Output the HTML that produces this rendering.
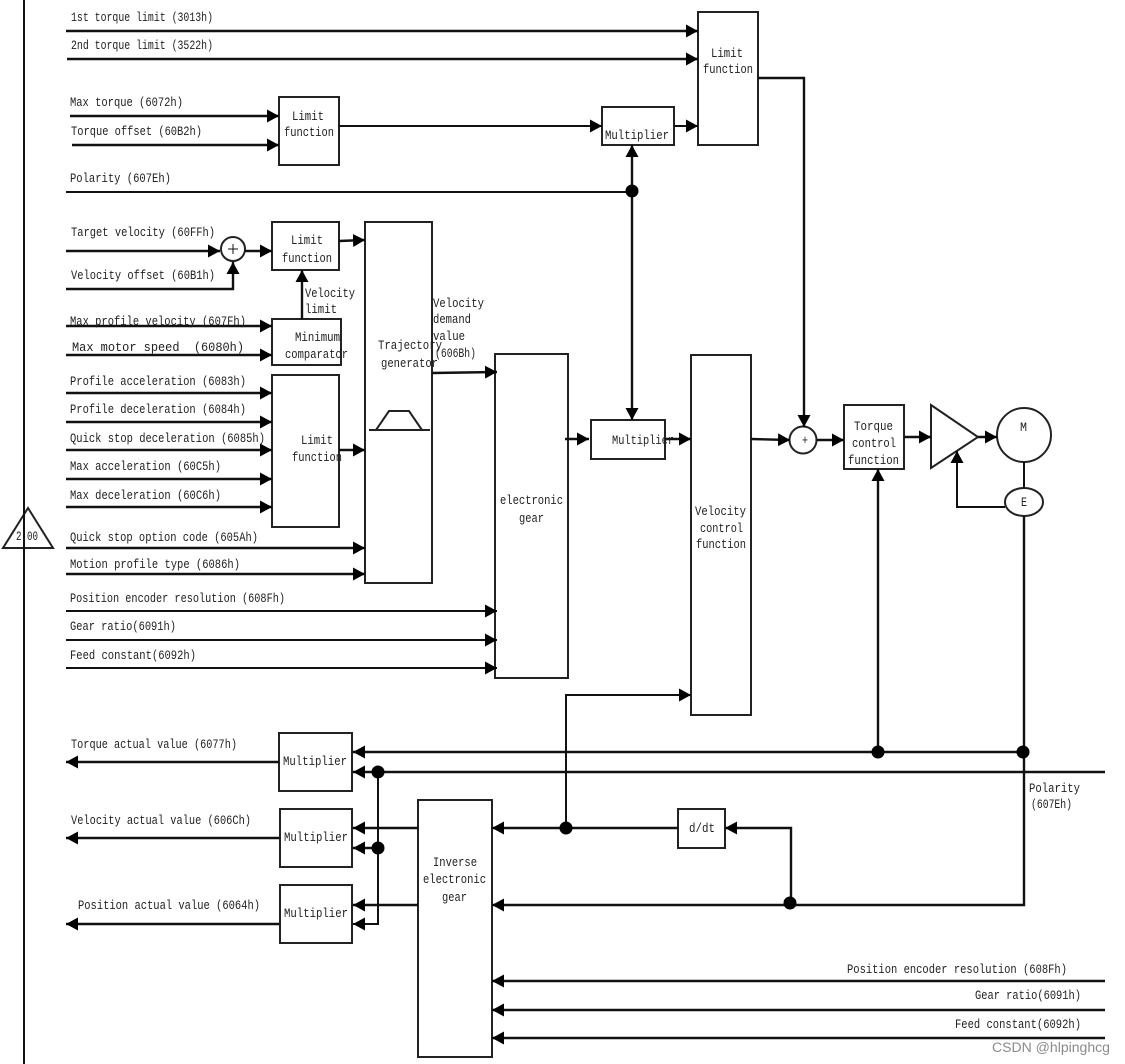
<!DOCTYPE html>
<html><head><meta charset="utf-8"><style>
html,body{margin:0;padding:0;background:#fff}
svg{display:block}
text{font-family:"Liberation Mono","DejaVu Sans Mono",monospace;font-size:13px;fill:#222}
.l{fill:none;stroke:#111;stroke-width:2.4;marker-end:url(#a)}
.n{fill:none;stroke:#111;stroke-width:2.4}
.t{stroke-width:2}
.b{fill:#fff;stroke:#222;stroke-width:2}
.f{fill:none;stroke:#222;stroke-width:2}
</style></head><body>
<svg width="1125" height="1064" viewBox="0 0 1125 1064" xmlns="http://www.w3.org/2000/svg">
<defs><marker id="a" markerUnits="userSpaceOnUse" markerWidth="14" markerHeight="14" refX="12" refY="6.5" orient="auto"><path d="M0,0L12,6.5L0,13Z" fill="#000"/></marker></defs>
<rect width="1125" height="1064" fill="#fff"/>
<path class="f" d="M28,508L3,548H53Z"/>
<path class="n t" d="M24,0V1064"/>

<rect class="b" x="698" y="12" width="60" height="133"/>
<rect class="b" x="279" y="97" width="60" height="68"/>
<rect class="b" x="602" y="107" width="72" height="38"/>
<rect class="b" x="272" y="222" width="67" height="48"/>
<rect class="b" x="365" y="222" width="67" height="361"/>
<rect class="b" x="272" y="319" width="69" height="46"/>
<rect class="b" x="272" y="375" width="67" height="152"/>
<rect class="b" x="495" y="354" width="73" height="324"/>
<rect class="b" x="591" y="420" width="74" height="39"/>
<rect class="b" x="691" y="355" width="60" height="360"/>
<rect class="b" x="844" y="405" width="60" height="64"/>
<rect class="b" x="279" y="733" width="73" height="58"/>
<rect class="b" x="280" y="809" width="72" height="58"/>
<rect class="b" x="280" y="885" width="72" height="58"/>
<rect class="b" x="418" y="800" width="74" height="257"/>
<rect class="b" x="678" y="809" width="47" height="39"/>

<circle class="b" cx="233" cy="249" r="12"/>
<circle class="b" cx="803" cy="440" r="13.5"/>
<path class="b" d="M931,405L978,437L931,468Z"/>
<circle class="b" cx="1024" cy="435" r="27"/>
<ellipse class="b" cx="1024" cy="502" rx="19" ry="14"/>
<path class="f" d="M369,430H430M376,430L389,411H409L422,430"/>
<path class="n" style="stroke-width:1" d="M228,249H238M233,244V254"/>

<path class="l" d="M66,31H698"/>
<path class="l" d="M67,59H698"/>
<path class="l" d="M70,116H279"/>
<path class="l" d="M72,145H279"/>
<path class="l t" d="M339,126H602"/>
<path class="l t" d="M674,126H698"/>
<path class="l" d="M758,78H804V427"/>
<path class="n t" d="M66,192H632"/>
<path class="l" d="M632,191V145"/>
<path class="l" d="M632,191V420"/>
<path class="l" d="M66,251H220"/>
<path class="l" d="M66,289H233V262"/>
<path class="l" d="M245,251H272"/>
<path class="l" d="M339,241L365,240"/>
<path class="l" d="M302,319V270"/>
<path class="l" d="M66,326H272"/>
<path class="l" d="M66,355H272"/>
<path class="l" d="M66,393H272"/>
<path class="l" d="M66,422H272"/>
<path class="l" d="M66,450H272"/>
<path class="l" d="M66,479H272"/>
<path class="l" d="M66,507H272"/>
<path class="l" d="M339,450H365"/>
<path class="l" d="M66,548H365"/>
<path class="l" d="M66,574H365"/>
<path class="l" d="M432,373L497,372"/>
<path class="l t" d="M66,611H497"/>
<path class="l t" d="M66,640H497"/>
<path class="l t" d="M66,668H497"/>
<path class="l" d="M565,439H589"/>
<path class="l" d="M665,439H691"/>
<path class="l" d="M751,439L790,440"/>
<path class="l" d="M817,440H844"/>
<path class="l" d="M904,437H931"/>
<path class="l" d="M978,437H997"/>
<path class="n t" d="M1024,462V488"/>
<path class="l t" d="M1005,507H957V451"/>
<path class="l" d="M1024,516V905H492"/>
<path class="l" d="M878,752V469"/>
<path class="l" d="M1023,752H353"/>
<path class="l" d="M1105,772H353"/>
<path class="l t" d="M378,772V924H353"/>
<path class="l" d="M378,848H353"/>
<path class="l" d="M418,828H353"/>
<path class="l" d="M418,905H353"/>
<path class="l" d="M279,762H66"/>
<path class="l" d="M279,838H66"/>
<path class="l" d="M279,924H66"/>
<path class="l" d="M678,828H492"/>
<path class="l t" d="M566,828V695H691"/>
<path class="l" d="M791,904V828H725"/>
<path class="l" d="M1105,981H492"/>
<path class="l" d="M1105,1010H492"/>
<path class="l" d="M1105,1038H492"/>

<g fill="#000">
<circle cx="632" cy="191" r="6.5"/>
<circle cx="878" cy="752" r="6.5"/>
<circle cx="1023" cy="752" r="6.5"/>
<circle cx="378" cy="772" r="6.5"/>
<circle cx="378" cy="848" r="6.5"/>
<circle cx="566" cy="828" r="6.5"/>
<circle cx="790" cy="903" r="6.5"/>
</g>

<g>
<text x="71" y="21" textLength="142" lengthAdjust="spacingAndGlyphs">1st torque limit (3013h)</text>
<text x="71" y="49" textLength="142" lengthAdjust="spacingAndGlyphs">2nd torque limit (3522h)</text>
<text x="70" y="106" textLength="113" lengthAdjust="spacingAndGlyphs">Max torque (6072h)</text>
<text x="71" y="135" textLength="131" lengthAdjust="spacingAndGlyphs">Torque offset (60B2h)</text>
<text x="70" y="182" textLength="101" lengthAdjust="spacingAndGlyphs">Polarity (607Eh)</text>
<text x="71" y="236" textLength="144" lengthAdjust="spacingAndGlyphs">Target velocity (60FFh)</text>
<text x="71" y="279" textLength="144" lengthAdjust="spacingAndGlyphs">Velocity offset (60B1h)</text>
<text x="70" y="325" textLength="176" lengthAdjust="spacingAndGlyphs">Max profile velocity (607Fh)</text>
<text x="72" y="351" textLength="172" lengthAdjust="spacingAndGlyphs" xml:space="preserve">Max motor speed  (6080h)</text>
<text x="70" y="385" textLength="176" lengthAdjust="spacingAndGlyphs">Profile acceleration (6083h)</text>
<text x="70" y="413" textLength="176" lengthAdjust="spacingAndGlyphs">Profile deceleration (6084h)</text>
<text x="70" y="442" textLength="195" lengthAdjust="spacingAndGlyphs">Quick stop deceleration (6085h)</text>
<text x="70" y="470" textLength="151" lengthAdjust="spacingAndGlyphs">Max acceleration (60C5h)</text>
<text x="70" y="499" textLength="151" lengthAdjust="spacingAndGlyphs">Max deceleration (60C6h)</text>
<text x="70" y="541" textLength="188" lengthAdjust="spacingAndGlyphs">Quick stop option code (605Ah)</text>
<text x="70" y="568" textLength="170" lengthAdjust="spacingAndGlyphs">Motion profile type (6086h)</text>
<text x="70" y="602" textLength="215" lengthAdjust="spacingAndGlyphs">Position encoder resolution (608Fh)</text>
<text x="70" y="630" textLength="106" lengthAdjust="spacingAndGlyphs">Gear ratio(6091h)</text>
<text x="70" y="659" textLength="126" lengthAdjust="spacingAndGlyphs">Feed constant(6092h)</text>
<text x="71" y="748" textLength="166" lengthAdjust="spacingAndGlyphs">Torque actual value (6077h)</text>
<text x="71" y="824" textLength="180" lengthAdjust="spacingAndGlyphs">Velocity actual value (606Ch)</text>
<text x="78" y="909" textLength="182" lengthAdjust="spacingAndGlyphs">Position actual value (6064h)</text>
<text x="847" y="973" textLength="220" lengthAdjust="spacingAndGlyphs">Position encoder resolution (608Fh)</text>
<text x="975" y="999" textLength="106" lengthAdjust="spacingAndGlyphs">Gear ratio(6091h)</text>
<text x="955" y="1028" textLength="126" lengthAdjust="spacingAndGlyphs">Feed constant(6092h)</text>

<text x="292" y="120" textLength="32" lengthAdjust="spacingAndGlyphs">Limit</text>
<text x="284" y="136" textLength="50" lengthAdjust="spacingAndGlyphs">function</text>
<text x="711" y="57" textLength="32" lengthAdjust="spacingAndGlyphs">Limit</text>
<text x="703" y="73" textLength="50" lengthAdjust="spacingAndGlyphs">function</text>
<text x="605" y="139" textLength="64" lengthAdjust="spacingAndGlyphs">Multiplier</text>
<text x="291" y="244" textLength="32" lengthAdjust="spacingAndGlyphs">Limit</text>
<text x="282" y="262" textLength="50" lengthAdjust="spacingAndGlyphs">function</text>
<text x="305" y="297" textLength="50" lengthAdjust="spacingAndGlyphs">Velocity</text>
<text x="305" y="313" textLength="32" lengthAdjust="spacingAndGlyphs">limit</text>
<text x="295" y="341" textLength="45" lengthAdjust="spacingAndGlyphs">Minimum</text>
<text x="285" y="358" textLength="63" lengthAdjust="spacingAndGlyphs">comparator</text>
<text x="378" y="349" textLength="64" lengthAdjust="spacingAndGlyphs">Trajectory</text>
<text x="381" y="367" textLength="57" lengthAdjust="spacingAndGlyphs">generator</text>
<text x="433" y="307" textLength="51" lengthAdjust="spacingAndGlyphs">Velocity</text>
<text x="433" y="323" textLength="38" lengthAdjust="spacingAndGlyphs">demand</text>
<text x="433" y="340" textLength="32" lengthAdjust="spacingAndGlyphs">value</text>
<text x="435" y="357" textLength="41" lengthAdjust="spacingAndGlyphs">(606Bh)</text>
<text x="301" y="444" textLength="32" lengthAdjust="spacingAndGlyphs">Limit</text>
<text x="292" y="461" textLength="50" lengthAdjust="spacingAndGlyphs">function</text>
<text x="500" y="504" textLength="63" lengthAdjust="spacingAndGlyphs">electronic</text>
<text x="519" y="522" textLength="25" lengthAdjust="spacingAndGlyphs">gear</text>
<text x="612" y="444" textLength="62" lengthAdjust="spacingAndGlyphs">Multiplier</text>
<text x="695" y="515" textLength="51" lengthAdjust="spacingAndGlyphs">Velocity</text>
<text x="700" y="532" textLength="43" lengthAdjust="spacingAndGlyphs">control</text>
<text x="696" y="548" textLength="50" lengthAdjust="spacingAndGlyphs">function</text>
<text x="854" y="430" textLength="39" lengthAdjust="spacingAndGlyphs">Torque</text>
<text x="852" y="447" textLength="44" lengthAdjust="spacingAndGlyphs">control</text>
<text x="848" y="464" textLength="51" lengthAdjust="spacingAndGlyphs">function</text>
<text x="802" y="444" textLength="6" lengthAdjust="spacingAndGlyphs">+</text>
<text x="1020" y="431" textLength="7" lengthAdjust="spacingAndGlyphs">M</text>
<text x="1021" y="506" textLength="6" lengthAdjust="spacingAndGlyphs">E</text>
<text x="16" y="540" textLength="22" lengthAdjust="spacingAndGlyphs">2.00</text>
<text x="283" y="765" textLength="64" lengthAdjust="spacingAndGlyphs">Multiplier</text>
<text x="284" y="841" textLength="64" lengthAdjust="spacingAndGlyphs">Multiplier</text>
<text x="284" y="917" textLength="64" lengthAdjust="spacingAndGlyphs">Multiplier</text>
<text x="433" y="866" textLength="44" lengthAdjust="spacingAndGlyphs">Inverse</text>
<text x="423" y="883" textLength="63" lengthAdjust="spacingAndGlyphs">electronic</text>
<text x="442" y="901" textLength="25" lengthAdjust="spacingAndGlyphs">gear</text>
<text x="689" y="832" textLength="26" lengthAdjust="spacingAndGlyphs">d/dt</text>
<text x="1029" y="792" textLength="51" lengthAdjust="spacingAndGlyphs">Polarity</text>
<text x="1031" y="808" textLength="41" lengthAdjust="spacingAndGlyphs">(607Eh)</text>
</g>
<text x="992" y="1052" style="font-family:'Liberation Sans',sans-serif;font-size:13.5px;fill:#8a8a8a" textLength="118" lengthAdjust="spacingAndGlyphs">CSDN @hlpinghcg</text>
</svg>
</body></html>
